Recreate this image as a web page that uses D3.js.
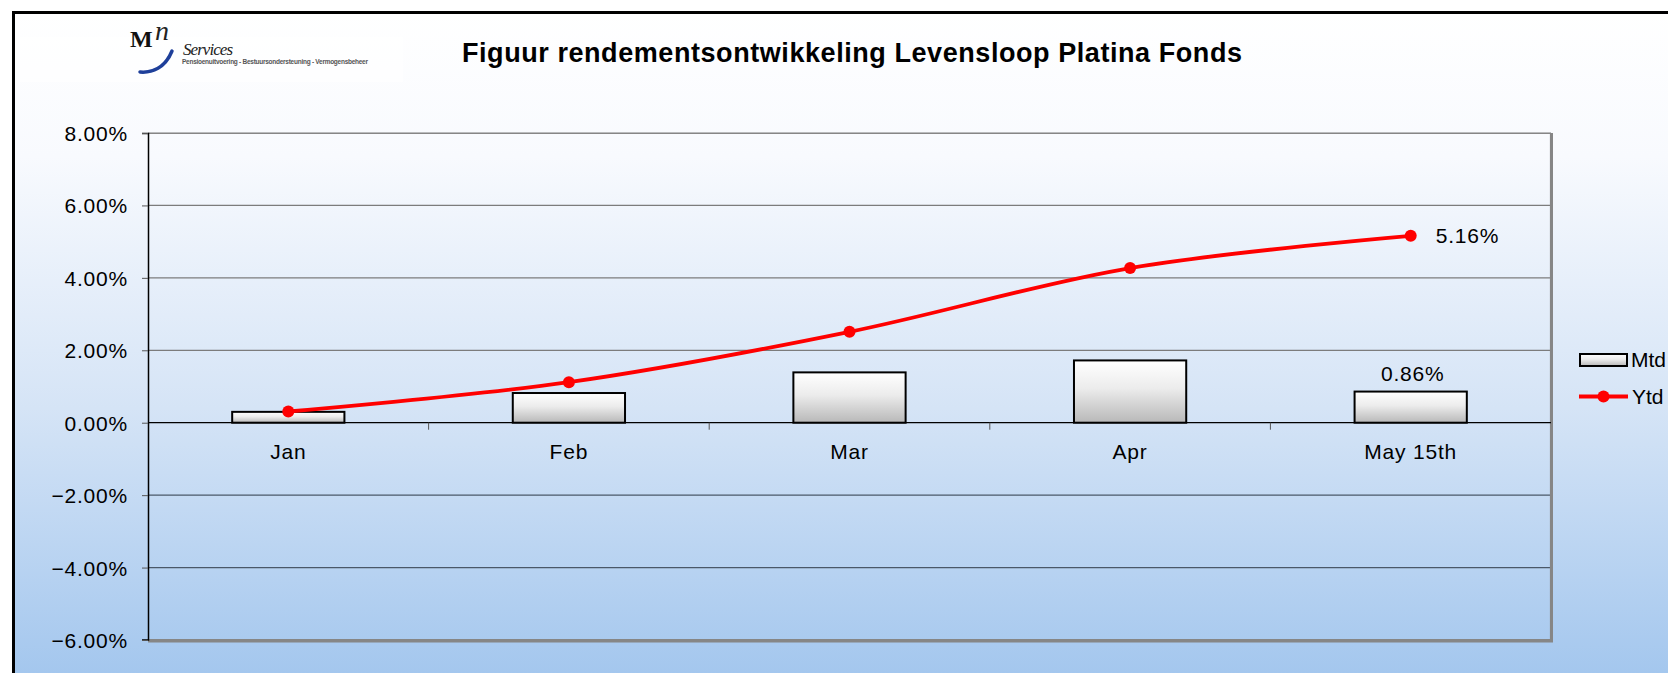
<!DOCTYPE html>
<html>
<head>
<meta charset="utf-8">
<script src="https://cdn.jsdelivr.net/npm/d3@7"></script>
<style>
	body { margin: 0; background: #ffffff; }
	text { font-family: "Liberation Sans", Arial, sans-serif; }
</style>
</head>
<body>
<div class="chart"></div>
<script>
	// data
	var months = ["Jan", "Feb", "Mar", "Apr", "May 15th"];
	var mtd = [0.30, 0.82, 1.39, 1.72, 0.86];
	var ytd = [0.31, 1.12, 2.51, 4.27, 5.16];
	var yTicks = [-6, -4, -2, 0, 2, 4, 6, 8];
	var titleText = "Figuur rendementsontwikkeling Levensloop Platina Fonds";

	var width = 1668, height = 673;

	// set margins
	var margin = { left: 148, right: 117, top: 133, bottom: 33 },
		plotwidth = width - margin.left - margin.right,
		plotheight = height - margin.top - margin.bottom;

	var svg = d3.select(".chart")
		.append("svg")
			.attr("width", width)
			.attr("height", height);

	var defs = svg.append("defs");

	// background gradient
	var bgGrad = defs.append("linearGradient")
		.attr("id", "bgGrad")
		.attr("x1", 0).attr("y1", 0).attr("x2", 0).attr("y2", 1);
	bgGrad.append("stop").attr("offset", "0%").attr("stop-color", "#ffffff");
	bgGrad.append("stop").attr("offset", "22%").attr("stop-color", "#f8fafe");
	bgGrad.append("stop").attr("offset", "60%").attr("stop-color", "#d5e4f6");
	bgGrad.append("stop").attr("offset", "100%").attr("stop-color", "#a4c7ee");

	// bar gradient
	var barGrad = defs.append("linearGradient")
		.attr("id", "barGrad")
		.attr("x1", 0).attr("y1", 0).attr("x2", 0).attr("y2", 1);
	barGrad.append("stop").attr("offset", "0%").attr("stop-color", "#ffffff");
	barGrad.append("stop").attr("offset", "45%").attr("stop-color", "#ececec");
	barGrad.append("stop").attr("offset", "100%").attr("stop-color", "#b8b8b8");

	svg.append("rect")
		.attr("x", 12).attr("y", 11)
		.attr("width", width - 12).attr("height", height - 11)
		.attr("fill", "url(#bgGrad)");

	// outer frame (top + left)
	svg.append("path")
		.attr("d", "M13.5," + height + "V12.5H" + width)
		.attr("fill", "none")
		.attr("stroke", "#000000")
		.attr("stroke-width", 3);

	// logo
	var logo = svg.append("g");
	logo.append("rect")
		.attr("x", 20).attr("y", 37).attr("width", 383).attr("height", 45)
		.attr("fill", "#ffffff").attr("opacity", 0.6);
	logo.append("text")
		.attr("x", 130).attr("y", 47)
		.attr("font-weight", "bold")
		.attr("font-size", "24px")
		.attr("fill", "#111111")
		.style("font-family", "'Liberation Serif', serif")
		.text("M");
	logo.append("text")
		.attr("x", 155).attr("y", 40)
		.attr("font-size", "28px")
		.attr("font-style", "italic")
		.attr("fill", "#222222")
		.style("font-family", "'Liberation Serif', serif")
		.text("n");
	logo.append("path")
		.attr("d", "M140,72 C152,73 165,68 172,51")
		.attr("fill", "none")
		.attr("stroke", "#1e3f9a")
		.attr("stroke-width", 3.5)
		.attr("stroke-linecap", "round");
	logo.append("text")
		.attr("x", 183).attr("y", 55)
		.attr("font-size", "17px")
		.attr("font-style", "italic")
		.attr("fill", "#222222")
		.attr("textLength", 50)
		.style("font-family", "'Liberation Serif', serif")
		.text("Services");
	logo.append("text")
		.attr("x", 182).attr("y", 64)
		.attr("font-size", "6.5px")
		.attr("font-weight", "bold")
		.attr("fill", "#555555")
		.attr("textLength", 186)
		.text("Pensioenuitvoering - Bestuursondersteuning - Vermogensbeheer");

	// title
	svg.append("text")
		.attr("x", 462)
		.attr("y", 61.5)
		.attr("font-size", "27px")
		.attr("font-weight", "bold")
		.attr("fill", "#000000")
		.attr("textLength", 780)
		.text(titleText);

	var g = svg.append("g")
		.attr("transform", "translate(" + margin.left + ", " + margin.top + ")");

	// scales
	var xScale = d3.scaleBand()
		.domain(months)
		.range([0, plotwidth])
		.paddingInner(0.6)
		.paddingOuter(0.3);
	var xStep = xScale.step();
	var xCenter = function(d) { return xScale(d) + xScale.bandwidth() / 2; };

	var yScale = d3.scaleLinear()
		.domain([-6, 8])
		.range([plotheight, 0]);

	// gridlines
	g.selectAll(".grid")
		.data(yTicks.filter(function(d) { return d !== 0 && d !== -6; }))
		.enter()
		.append("line")
			.attr("class", "grid")
			.attr("x1", 0).attr("x2", plotwidth)
			.attr("y1", function(d) { return yScale(d); })
			.attr("y2", function(d) { return yScale(d); })
			.attr("stroke", function(d) { return d > 0 ? "#7c7c7c" : "#4a5868"; })
			.attr("stroke-width", 1.2);

	// plot frame: right and bottom thick gray
	g.append("path")
		.attr("d", "M0,0.5H" + (plotwidth - 0.5) + "V" + (plotheight - 0.5) + "H0")
		.attr("fill", "none")
		.attr("stroke", "#868686")
		.attr("stroke-width", 1.2);
	g.append("path")
		.attr("d", "M" + (plotwidth + 0.5) + ",0V" + (plotheight + 1) + "H0")
		.attr("fill", "none")
		.attr("stroke", "#868686")
		.attr("stroke-width", 3);

	// y axis
	var yAxisCall = d3.axisLeft(yScale)
		.tickValues(yTicks)
		.tickSize(6)
		.tickPadding(14)
		.tickFormat(function(d) { return d3.format(".2f")(d) + "%"; });
	var yAxis = g.append("g")
		.attr("class", "y axis")
		.call(yAxisCall);
	yAxis.select(".domain")
		.attr("stroke", "#000000")
		.attr("stroke-width", 1.5)
		.attr("d", "M-6,0.5H0.5V" + plotheight + "H-6");
	yAxis.selectAll(".tick line").attr("stroke", "#555555");
	yAxis.selectAll(".tick text")
		.attr("font-size", "21px")
		.attr("letter-spacing", "0.8px")
		.attr("fill", "#000000")
		.attr("dy", "0.36em");

	// x axis along zero
	var xAxis = g.append("g")
		.attr("class", "x axis")
		.attr("transform", "translate(0," + yScale(0) + ")");
	xAxis.append("line")
		.attr("x1", 0).attr("x2", plotwidth)
		.attr("y1", 0).attr("y2", 0)
		.attr("stroke", "#000000")
		.attr("stroke-width", 1.3);
	xAxis.selectAll(".xtick")
		.data(d3.range(1, months.length))
		.enter()
		.append("line")
			.attr("class", "xtick")
			.attr("x1", function(i) { return i * xStep; })
			.attr("x2", function(i) { return i * xStep; })
			.attr("y1", 0).attr("y2", 7)
			.attr("stroke", "#555555");
	xAxis.selectAll(".xlabel")
		.data(months)
		.enter()
		.append("text")
			.attr("class", "xlabel")
			.attr("x", xCenter)
			.attr("y", 36)
			.attr("text-anchor", "middle")
			.attr("font-size", "21px")
			.attr("letter-spacing", "0.8px")
			.attr("fill", "#000000")
			.text(function(d) { return d; });

	// bars
	g.selectAll(".bar")
		.data(months)
		.enter()
		.append("rect")
			.attr("class", "bar")
			.attr("x", function(d) { return xScale(d); })
			.attr("width", xScale.bandwidth())
			.attr("y", function(d, i) { return yScale(mtd[i]); })
			.attr("height", function(d, i) { return yScale(0) - yScale(mtd[i]); })
			.attr("fill", "url(#barGrad)")
			.attr("stroke", "#000000")
			.attr("stroke-width", 2);

	// ytd line
	var line = d3.line()
		.x(function(d) { return xCenter(d); })
		.y(function(d, i) { return yScale(ytd[i]); })
		.curve(d3.curveCatmullRom.alpha(0));
	g.append("path")
		.datum(months)
		.attr("fill", "none")
		.attr("stroke", "#ff0000")
		.attr("stroke-width", 3.8)
		.attr("d", line);
	g.selectAll(".dot")
		.data(months)
		.enter()
		.append("circle")
			.attr("class", "dot")
			.attr("cx", xCenter)
			.attr("cy", function(d, i) { return yScale(ytd[i]); })
			.attr("r", 6)
			.attr("fill", "#ff0000");

	// data labels on the last month
	var last = months.length - 1;
	g.append("text")
		.attr("x", xCenter(months[last]) + 25)
		.attr("y", yScale(ytd[last]) + 7)
		.attr("font-size", "21px")
		.attr("letter-spacing", "0.8px")
		.text(ytd[last].toFixed(2) + "%");
	g.append("text")
		.attr("x", xCenter(months[last]) + 2)
		.attr("y", yScale(mtd[last]) - 11)
		.attr("text-anchor", "middle")
		.attr("font-size", "21px")
		.attr("letter-spacing", "0.8px")
		.text(mtd[last].toFixed(2) + "%");

	// legend
	var legend = svg.append("g")
		.attr("transform", "translate(1580, 0)");
	legend.append("rect")
		.attr("x", 0).attr("y", 354)
		.attr("width", 47).attr("height", 12)
		.attr("fill", "url(#barGrad)")
		.attr("stroke", "#000000")
		.attr("stroke-width", 2);
	legend.append("text")
		.attr("x", 51).attr("y", 366.5)
		.attr("font-size", "21px")
		.text("Mtd");
	legend.append("line")
		.attr("x1", -1).attr("x2", 48)
		.attr("y1", 396.5).attr("y2", 396.5)
		.attr("stroke", "#ff0000")
		.attr("stroke-width", 3.8);
	legend.append("circle")
		.attr("cx", 23.5).attr("cy", 396.5)
		.attr("r", 6)
		.attr("fill", "#ff0000");
	legend.append("text")
		.attr("x", 52).attr("y", 404)
		.attr("font-size", "21px")
		.text("Ytd");
</script>
</body>
</html>
